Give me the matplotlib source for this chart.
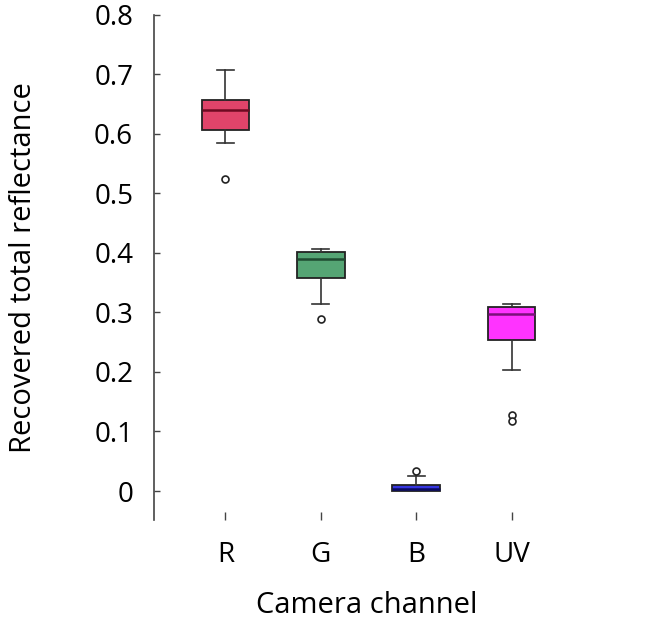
"""
Box plot of recovered total reflectance per camera channel.
"""

import matplotlib.pyplot as plt

plt.rcParams['font.family'] = ['Open Sans', 'DejaVu Sans']

# Camera channels
channels = ["R", "G", "B", "UV"]

# Box statistics
whisker_low = [0.584, 0.315, 0.000, 0.203]
q1 = [0.606, 0.358, 0.0005, 0.253]
medians = [0.641, 0.389, 0.004, 0.297]
q3 = [0.657, 0.402, 0.0106, 0.309]
whisker_high = [0.707, 0.407, 0.026, 0.314]
outliers = [[0.525], [0.289], [0.034], [0.127, 0.118]]

# Colors
box_colors = ['#E0446A', '#55A574', '#3535E0', '#FF33FF']
median_colors = ['#6E0A22', '#1E4A30', '#0A0A60', '#7A107A']

stats = []
for i, ch in enumerate(channels):
    stats.append({
        'label': ch,
        'whislo': whisker_low[i],
        'q1': q1[i],
        'med': medians[i],
        'q3': q3[i],
        'whishi': whisker_high[i],
        'fliers': outliers[i],
    })

fig = plt.figure(figsize=(6.47, 6.2), dpi=100)
ax = fig.add_axes([0.238, 0.161, 0.641, 0.815])

bp = ax.bxp(stats, positions=[1, 2, 3, 4], widths=0.5, capwidths=0.18,
            patch_artist=True,
            boxprops=dict(edgecolor='#222222', linewidth=1.3),
            whiskerprops=dict(color='#333333', linewidth=1.2),
            capprops=dict(color='#333333', linewidth=1.2),
            flierprops=dict(marker='o', markersize=5, markerfacecolor='white',
                            markeredgecolor='#222222', markeredgewidth=1.2))

for patch, c in zip(bp['boxes'], box_colors):
    patch.set_facecolor(c)
for line, c in zip(bp['medians'], median_colors):
    line.set_color(c)
    line.set_linewidth(1.8)

ax.set_xlim(0.25, 4.6)
ax.set_ylim(-0.049, 0.8)
ax.set_yticks([0, 0.1, 0.2, 0.3, 0.4, 0.5, 0.6, 0.7, 0.8])
ax.set_yticklabels(['0', '0.1', '0.2', '0.3', '0.4', '0.5', '0.6', '0.7', '0.8'])

for side in ['top', 'right', 'bottom']:
    ax.spines[side].set_visible(False)
ax.spines['left'].set_color('#444444')
ax.spines['left'].set_linewidth(1.2)

ax.tick_params(axis='y', direction='in', length=4.5, width=1.0, color='#444444',
               labelsize=20, pad=15)
ax.tick_params(axis='x', direction='in', length=5.5, width=1.0, color='#444444',
               labelsize=20, pad=15)

ax.set_ylabel('Recovered total reflectance', size=21)
ax.set_xlabel('Camera channel', size=21)
ax.yaxis.set_label_coords(-0.28, 0.5)
ax.xaxis.set_label_coords(0.514, -0.141)

plt.savefig('out.png', dpi=100)
